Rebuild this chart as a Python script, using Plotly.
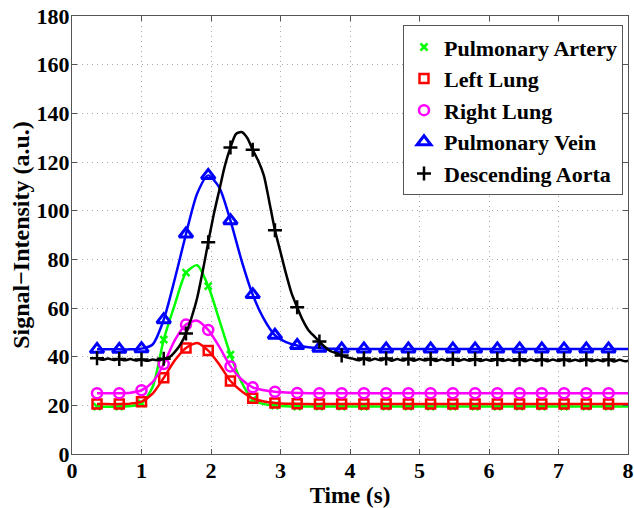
import plotly.graph_objects as go

# Sampling times (s), 0.08 s step
TIME_FINE = [0.36, 0.44, 0.52, 0.60, 0.68, 0.76, 0.84, 0.92, 1.00, 1.08, 1.16, 1.24,
             1.32, 1.40, 1.48, 1.56, 1.64, 1.72, 1.80, 1.88, 1.96, 2.04, 2.12, 2.20,
             2.28, 2.36, 2.44, 2.52, 2.60, 2.68, 2.76, 2.84, 2.92, 3.00, 3.08, 3.16,
             3.24, 3.32, 3.40, 3.48, 3.56, 3.64, 3.72, 3.80, 3.88, 3.96, 4.04, 4.12,
             4.20, 4.28, 4.36, 4.44, 4.52, 4.60, 4.68, 4.76, 4.84, 4.92, 5.00, 5.08,
             5.16, 5.24, 5.32, 5.40, 5.48, 5.56, 5.64, 5.72, 5.80, 5.88, 5.96, 6.04,
             6.12, 6.20, 6.28, 6.36, 6.44, 6.52, 6.60, 6.68, 6.76, 6.84, 6.92, 7.00,
             7.08, 7.16, 7.24, 7.32, 7.40, 7.48, 7.56, 7.64, 7.72, 7.80, 7.88, 7.96,
             8.04]
# 0.16 s step used by the smooth curves
TIME = TIME_FINE[::2]

PULMONARY_ARTERY = [19.5, 19.4, 19.5, 19.7, 20.8, 27.5, 47.0, 61.5, 74.5, 77.6,
                    69.0, 55.0, 40.8, 29.5, 22.3, 20.5, 19.9, 19.6, 19.5, 19.5,
                    19.5, 19.5, 19.5, 19.5, 19.5, 19.5, 19.5, 19.5, 19.5, 19.5,
                    19.5, 19.5, 19.5, 19.5, 19.5, 19.5, 19.5, 19.5, 19.5, 19.5,
                    19.5, 19.5, 19.5, 19.5, 19.5, 19.5, 19.5, 19.5, 19.5]
LEFT_LUNG = [20.5, 20.5, 20.5, 20.7, 21.5, 24.8, 31.3, 38.5, 43.6, 45.6,
             42.5, 36.8, 30.0, 25.8, 22.9, 21.6, 21.0, 20.7, 20.6, 20.5,
             20.5, 20.5, 20.5, 20.5, 20.5, 20.5, 20.5, 20.5, 20.5, 20.5,
             20.5, 20.5, 20.5, 20.5, 20.5, 20.5, 20.5, 20.5, 20.5, 20.5,
             20.5, 20.5, 20.5, 20.5, 20.5, 20.5, 20.5, 20.5, 20.5]
RIGHT_LUNG = [25.0, 25.0, 25.0, 25.2, 26.2, 29.5, 37.0, 46.8, 53.2, 54.8,
              51.0, 44.0, 36.0, 30.6, 27.4, 26.2, 25.6, 25.3, 25.1, 25.0,
              25.0, 25.0, 25.0, 25.0, 25.0, 25.0, 25.0, 25.0, 25.0, 25.0,
              25.0, 25.0, 25.0, 25.0, 25.0, 25.0, 25.0, 25.0, 25.0, 25.0,
              25.0, 25.0, 25.0, 25.0, 25.0, 25.0, 25.0, 25.0, 25.0]
PULMONARY_VEIN = [43.0, 43.0, 43.0, 43.0, 43.3, 45.0, 55.2, 72.0, 90.4, 107.0,
                  114.5, 109.5, 95.9, 79.5, 65.5, 55.5, 48.8, 46.0, 44.6, 43.9,
                  43.5, 43.3, 43.2, 43.2, 43.2, 43.2, 43.2, 43.2, 43.2, 43.2,
                  43.2, 43.2, 43.2, 43.2, 43.2, 43.2, 43.2, 43.2, 43.2, 43.2,
                  43.2, 43.2, 43.2, 43.2, 43.2, 43.2, 43.2, 43.2, 43.2]
DESCENDING_AORTA = [39.3, 38.7, 39.2, 38.6, 39.0, 38.5, 39.0, 38.4, 38.8, 38.3,
                    38.8, 38.5, 39.1, 39.8, 42.0, 45.0, 49.5, 56.0, 64.0, 75.0,
                    87.0, 98.5, 108.5, 118.5, 126.0, 131.5, 132.3, 130.0, 125.0, 120.5,
                    114.5, 103.5, 92.0, 83.0, 74.0, 66.0, 60.3, 55.0, 51.0, 48.5,
                    46.2, 44.0, 42.3, 41.5, 40.5, 39.6, 39.2, 38.5, 39.2, 38.4,
                    39.1, 38.5, 39.2, 38.3, 39.0, 38.4, 39.1, 38.3, 39.0, 38.4,
                    39.0, 38.2, 38.9, 38.3, 39.0, 38.2, 38.9, 38.3, 38.9, 38.2,
                    38.8, 38.3, 38.9, 38.2, 38.8, 38.2, 38.9, 38.1, 38.8, 38.2,
                    38.8, 38.1, 38.8, 38.2, 38.8, 38.1, 38.7, 38.2, 38.8, 38.1,
                    38.7, 38.1, 38.8, 38.0, 38.7, 38.1, 38.7]

X_TICKS = [0, 1, 2, 3, 4, 5, 6, 7, 8]
Y_TICKS = [0, 20, 40, 60, 80, 100, 120, 140, 160, 180]

FONT = "Liberation Serif, Times New Roman, serif"

series = [
    ("Pulmonary Artery", TIME, PULMONARY_ARTERY, "#00ff00", "x-thin-open", 7, 2.5, 2),
    ("Left Lung", TIME, LEFT_LUNG, "#ff0000", "square-open", 9, 2.5, 2),
    ("Right Lung", TIME, RIGHT_LUNG, "#ff00ff", "circle-open", 10, 2.5, 2),
    ("Pulmonary Vein", TIME, PULMONARY_VEIN, "#0000ff", "triangle-up-open", 12, 3, 2),
    ("Descending Aorta", TIME_FINE, DESCENDING_AORTA, "#000000", "cross-thin-open", 10, 2.5, 4),
]

fig = go.Figure()
for name, t, y, color, symbol, msize, mlw, step in series:
    fig.add_trace(go.Scatter(
        x=t, y=y, mode="lines", showlegend=False, hoverinfo="skip",
        line=dict(color=color, width=2.5, shape="spline", smoothing=0.7),
    ))
    mx = [v for v in t[::step] if v <= 7.8]
    my = y[::step][:len(mx)]
    fig.add_trace(go.Scatter(
        x=mx, y=my, mode="markers", name=name,
        marker=dict(symbol=symbol, size=msize, color=color,
                    line=dict(color=color, width=mlw)),
    ))

axis_common = dict(
    showline=True, linecolor="#555555", linewidth=1, mirror="allticks",
    ticks="inside", ticklen=5, tickcolor="#555555",
    showgrid=True, gridcolor="#a8a8a8", griddash="1px,4px", gridwidth=1,
    zeroline=False, automargin=False, ticklabelstandoff=-3,
    tickfont=dict(family=FONT, size=22, color="black", weight="bold"),
)

fig.update_layout(
    width=634, height=508,
    margin=dict(l=72, r=6, t=16, b=54),
    paper_bgcolor="white", plot_bgcolor="white",
    font=dict(family=FONT, size=22, color="black", weight="bold"),
    xaxis=dict(range=[0, 8], tickvals=X_TICKS,
               title=dict(text="Time (s)", standoff=4,
                          font=dict(family=FONT, size=23, color="black", weight="bold")),
               **axis_common),
    yaxis=dict(range=[0, 180], tickvals=Y_TICKS,
               title=dict(text="Signal\u2212Intensity (a.u.)", standoff=0,
                          font=dict(family=FONT, size=24, color="black", weight="bold")),
               **axis_common),
    legend=dict(x=0.991, xanchor="right", y=0.979, yanchor="top",
                bgcolor="white", bordercolor="#555555", borderwidth=1,
                font=dict(family=FONT, size=22, color="black", weight="bold"),
                tracegroupgap=0, itemwidth=30),
)

fig.write_html("out.html", config={"displayModeBar": False},
               post_script="document.body.style.margin='0';")
